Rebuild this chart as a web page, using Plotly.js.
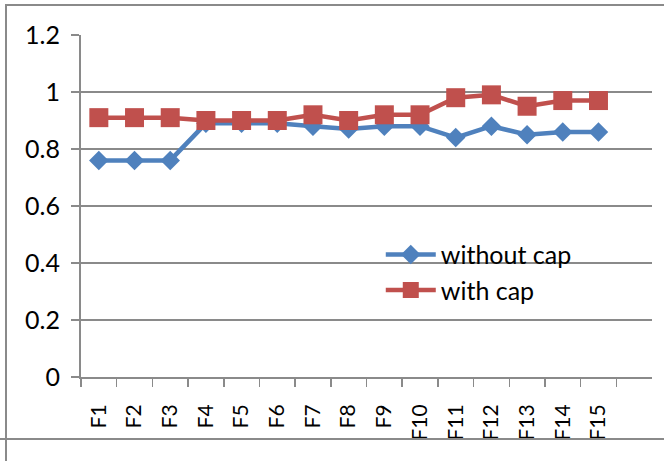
<!DOCTYPE html>
<html>
<head>
<meta charset="utf-8">
<script src="https://cdn.plot.ly/plotly-3.0.1.min.js"></script>
<style>
  html, body { margin: 0; padding: 0; background: #ffffff; }
  #wrap { position: relative; width: 664px; height: 461px; overflow: hidden; }
  #chart { position: absolute; left: 0; top: 0; width: 664px; height: 461px; }
  .ln { position: absolute; background: #8a8a8a; }
</style>
</head>
<body>
<div id="wrap">
  <div id="chart"></div>
  <div class="ln" style="left:5px; top:4px; width:659px; height:2px;"></div>
  <div class="ln" style="left:5px; top:4px; width:2px; height:457px;"></div>
  <div class="ln" style="left:0px; top:438px; width:664px; height:2px;"></div>
</div>
<script>
const categories = ["F1","F2","F3","F4","F5","F6","F7","F8","F9","F10","F11","F12","F13","F14","F15"];
const withoutCap = [0.76,0.76,0.76,0.89,0.89,0.89,0.88,0.87,0.88,0.88,0.84,0.88,0.85,0.86,0.86];
const withCap    = [0.91,0.91,0.91,0.90,0.90,0.90,0.92,0.90,0.92,0.92,0.98,0.99,0.95,0.97,0.97];
const yTicks = [0,0.2,0.4,0.6,0.8,1,1.2];
const yTickText = ["0","0.2","0.4","0.6","0.8","1","1.2"];

const FONT = "Lato, 'Open Sans', sans-serif";
const GRID = "#8a8a8a";

const traces = [
  {
    x: categories, y: withoutCap, name: "without cap", type: "scatter", mode: "lines+markers",
    line: {color: "#4F81BD", width: 4.5},
    marker: {symbol: "diamond", size: 15, color: "#4F81BD"}
  },
  {
    x: categories, y: withCap, name: "with cap", type: "scatter", mode: "lines+markers",
    line: {color: "#C0504D", width: 4.5},
    marker: {symbol: "square", size: 19, color: "#C0504D"}
  }
];

const layout = {
  width: 664, height: 461,
  margin: {l: 81, r: 12, t: 35, b: 84, pad: 0},
  paper_bgcolor: "rgba(0,0,0,0)", plot_bgcolor: "#ffffff",
  font: {family: FONT, size: 25, color: "#000000"},
  showlegend: true,
  legend: {
    x: 0.525, y: 0.425, xanchor: "left", yanchor: "top",
    bgcolor: "rgba(0,0,0,0)", borderwidth: 0,
    font: {family: FONT, size: 25, color: "#000000"},
    tracegroupgap: 0, itemwidth: 50
  },
  xaxis: {
    type: "category", range: [-0.5, 15.5],
    tickson: "boundaries", ticks: "outside", ticklen: 8, tickwidth: 1.5, tickcolor: GRID,
    showline: true, linecolor: GRID, linewidth: 2, showgrid: false, zeroline: false,
    tickangle: -90, tickfont: {family: FONT, size: 21, color: "#000"},
    ticklabelstandoff: 17, fixedrange: true
  },
  yaxis: {
    range: [0, 1.2], tickvals: yTicks, ticktext: yTickText,
    ticks: "outside", ticklen: 8, tickwidth: 2, tickcolor: GRID,
    showline: true, linecolor: GRID, linewidth: 2,
    showgrid: true, gridcolor: GRID, gridwidth: 2, zeroline: false,
    tickfont: {family: FONT, size: 25, color: "#000"},
    ticklabelstandoff: 6, fixedrange: true
  }
};

Plotly.newPlot("chart", traces, layout, {displayModeBar: false, staticPlot: true});
</script>
</body>
</html>
